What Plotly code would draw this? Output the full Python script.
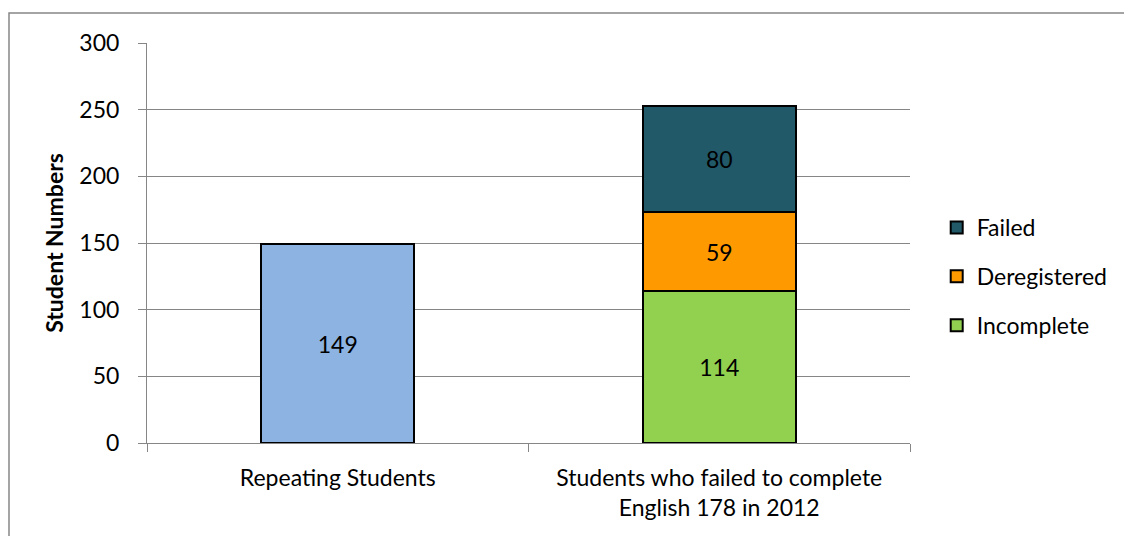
import plotly.graph_objects as go

categories = ["Repeating Students", "Students who failed to complete<br>English 178 in 2012"]
repeating = [149]
incomplete = [114]
deregistered = [59]
failed = [80]
y_ticks = [0, 50, 100, 150, 200, 250, 300]

FONT = "Lato"
FS = 23
fig = go.Figure()

line = dict(color="black", width=2)
fig.add_trace(go.Bar(
    x=[categories[0]], y=repeating, name="Repeating Students", showlegend=False,
    marker=dict(color="#8DB3E2", line=line), text=repeating,
    textposition="inside", insidetextanchor="middle",
    textfont=dict(color="black", size=FS, family=FONT), width=0.4))
for name, vals, color, rank in [
    ("Incomplete", incomplete, "#92D050", 3),
    ("Deregistered", deregistered, "#FF9900", 2),
    ("Failed", failed, "#215968", 1),
]:
    fig.add_trace(go.Bar(
        x=[categories[1]], y=vals, name=name, legendgroup=name, legendrank=rank,
        marker=dict(color=color, line=line), text=vals,
        textposition="inside", insidetextanchor="middle",
        textfont=dict(color="black", size=FS, family=FONT), width=0.4))

# page has an 8px body margin; figure is offset by (8, 8)
fig.update_layout(
    barmode="stack",
    width=1124, height=528,
    margin=dict(l=139, r=222, t=35, b=93),
    paper_bgcolor="white", plot_bgcolor="white",
    font=dict(family=FONT, size=FS, color="black"),
    legend=dict(x=1.035, y=0.5925, xanchor="left", yanchor="top",
                traceorder="grouped", tracegroupgap=16,
                font=dict(size=FS, family=FONT), itemwidth=30),
    xaxis=dict(showgrid=False, showline=True, linecolor="#868686", linewidth=1,
               ticks="outside", tickson="boundaries", ticklen=8, tickcolor="#868686",
               ticklabelstandoff=14),
    yaxis=dict(range=[0, 300], tickvals=y_ticks, showgrid=True, gridcolor="#868686",
               gridwidth=1, showline=True, linecolor="#868686", linewidth=1,
               ticks="outside", ticklen=8, tickcolor="#868686", zeroline=False,
               ticklabelstandoff=14,
               title=dict(text="<b>Student Numbers</b>", font=dict(size=FS, family=FONT),
                          standoff=9)),
    shapes=[dict(type="rect", xref="paper", yref="paper",
                 x0=(9 - 147) / 763, x1=(1131 - 147) / 763,
                 y0=(443 - 545) / 400, y1=(443 - 13) / 400,
                 line=dict(color="#868686", width=1.5), layer="below")],
)

fig.write_html("out.html")
